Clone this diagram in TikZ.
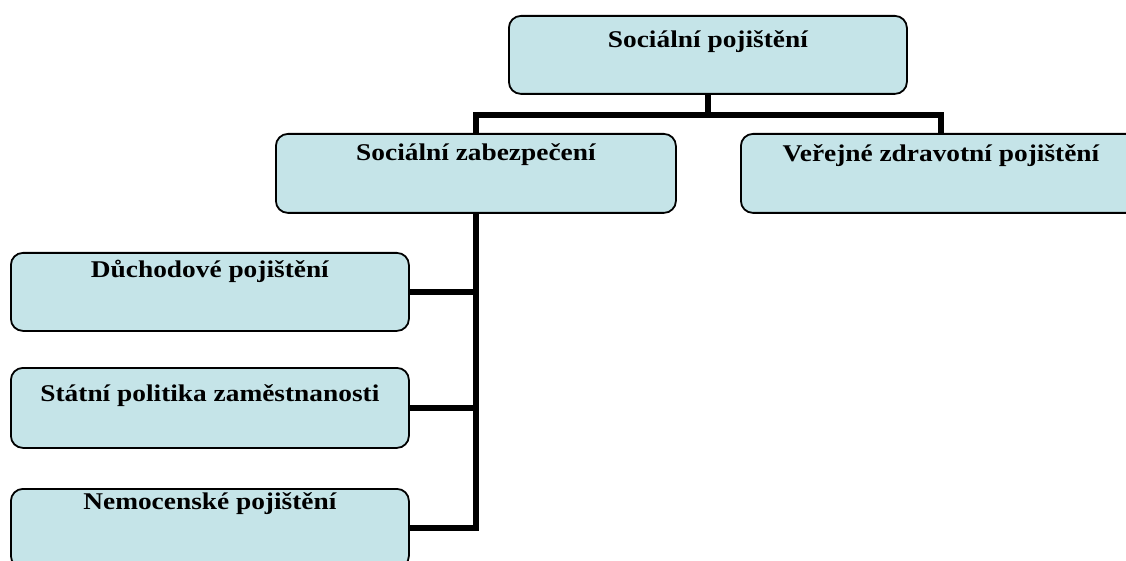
\documentclass[tikz,border=0pt]{standalone}
\usepackage{fontspec}
\setmainfont{Liberation Serif}[FakeStretch=1.14]
\usepackage{tikz}
\usetikzlibrary{calc}

\definecolor{boxfill}{RGB}{197,228,232}
\tikzset{
  box/.style 2 args={draw,fill=boxfill,line width=1.8pt,rounded corners=12pt,
    anchor=north west,minimum width=398pt,inner ysep=0pt,
    text height=#1,text depth=#2,font=\fontsize{24}{27}\selectfont\bfseries},
  conn/.style={line width=6pt,line join=miter}
}

\begin{document}
\begin{tikzpicture}[x=1pt,y=-1pt]
  \useasboundingbox (0,0) rectangle (1126,561);

  \node[box={32pt}{46pt}] (top) at (508,15) {Sociální pojištění};
  \node[box={27pt}{52pt},minimum width=400pt] (zab) at (275,133) {Sociální zabezpečení};
  \node[box={28pt}{51pt},minimum width=400pt] (zdrav) at (740,133) {Veřejné zdravotní pojištění};

  \node[box={25pt}{53pt}] (duch) at (10,252) {Důchodové pojištění};
  \node[box={34pt}{46pt}] (statni) at (10,367) {Státní politika zaměstnanosti};
  \node[box={21pt}{58pt}] (nemoc) at (10,488) {Nemocenské pojištění};

  \coordinate (bus) at ($(top.south)+(0,20)$);
  \draw[conn] (top.south) -- (bus);
  \draw[conn] (zab.north) |- (bus) -| (zdrav.north);

  \draw[conn] (zab.south) |- (nemoc.east);
  \draw[conn] (duch.east) -- (duch.east -| zab.south);
  \draw[conn] (statni.east) -- (statni.east -| zab.south);
\end{tikzpicture}
\end{document}
